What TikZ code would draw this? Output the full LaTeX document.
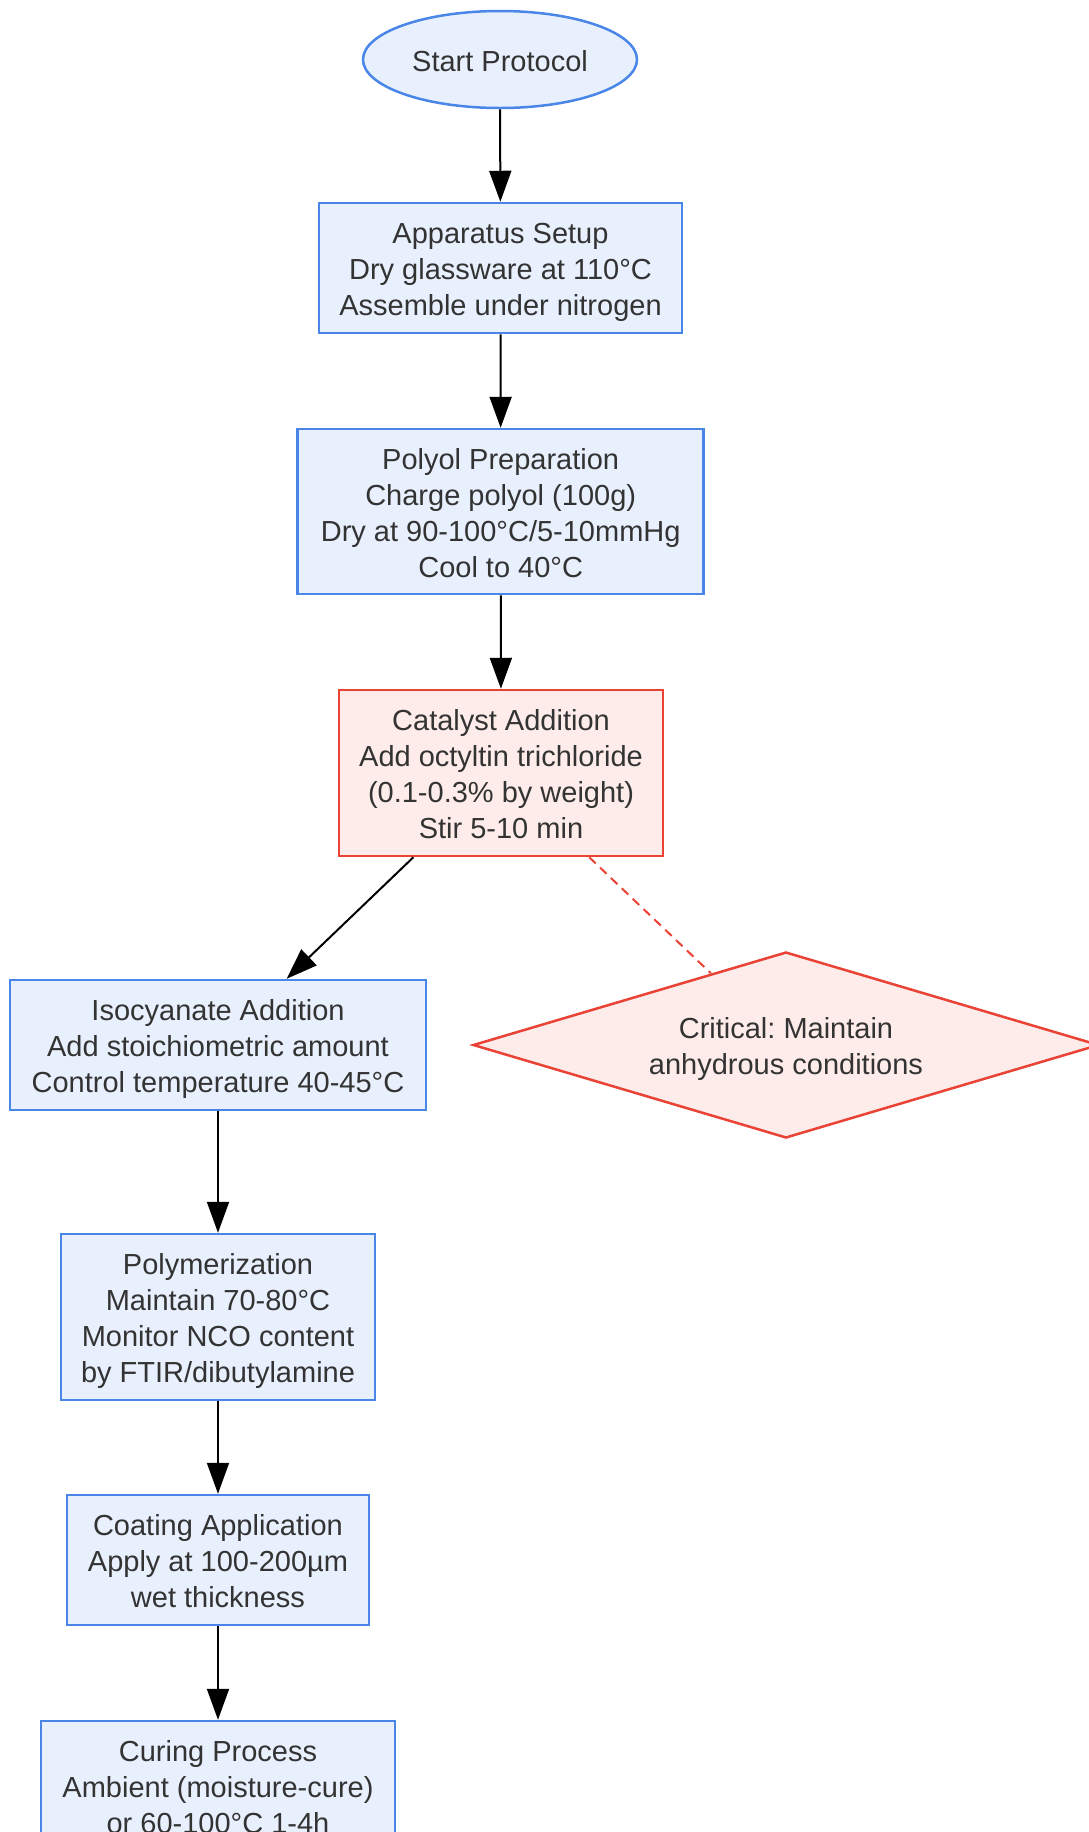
\documentclass[tikz,border=0pt]{standalone}
\usepackage{fontspec}
\setmainfont{Liberation Sans}
\usetikzlibrary{arrows.meta,shapes.geometric}
\definecolor{bfill}{HTML}{E8F0FE}
\definecolor{bdraw}{HTML}{4A86E8}
\definecolor{rfill}{HTML}{FDECEA}
\definecolor{rdraw}{HTML}{EA4335}
\definecolor{txt}{HTML}{333333}
\frenchspacing
\begin{document}
\begin{tikzpicture}[x=1pt,y=-1pt,
  base/.style={align=center, inner sep=0pt, text=txt, font=\fontsize{29}{36}\selectfont\frenchspacing, line width=2.5pt, text depth=5pt},
  oneline/.style={text height=28pt},
  twolines/.style={text height=64pt},
  threelines/.style={text height=100pt},
  fourlines/.style={text height=136pt},
  bluebox/.style={base, rectangle, fill=bfill, draw=bdraw},
  redbox/.style={base, rectangle, fill=rfill, draw=rdraw},
  flow/.style={line width=2pt, draw=black, -{Triangle[length=31pt,width=22pt]}},
  warnlink/.style={line width=2pt, draw=rdraw, dash pattern=on 9pt off 6pt}]
\useasboundingbox (0,0) rectangle (1089,1832);
\fill[white] (0,0) rectangle (1089,1832);

\node[base, oneline, ellipse, fill=bfill, draw=bdraw, minimum width=274pt, minimum height=97pt] (start) at (500,59.5) {Start Protocol};
\node[bluebox, threelines, minimum width=363pt, minimum height=130pt] (app) at (500.5,268) {Apparatus Setup\\Dry glassware at 110°C\\Assemble under nitrogen};
\node[bluebox, fourlines, minimum width=406pt, minimum height=165pt] (poly) at (500.7,511.5) {Polyol Preparation\\Charge polyol (100g)\\Dry at 90-100°C/5-10mmHg\\Cool to 40°C};
\node[redbox, fourlines, minimum width=324pt, minimum height=166pt] (cat) at (501,773) {Catalyst Addition\\Add octyltin trichloride\\(0.1-0.3\% by weight)\\Stir 5-10 min};
\node[bluebox, threelines, minimum width=416pt, minimum height=130pt] (iso) at (218,1045) {Isocyanate Addition\\Add stoichiometric amount\\Control temperature 40-45°C};
\node[base, twolines, diamond, aspect=3.366, fill=rfill, draw=rdraw, minimum width=626pt, minimum height=186pt] (crit) at (786,1045) {Critical: Maintain\\anhydrous conditions};
\node[bluebox, fourlines, minimum width=314pt, minimum height=166pt] (polym) at (218,1317) {Polymerization\\Maintain 70-80°C\\Monitor NCO content\\by FTIR/dibutylamine};
\node[bluebox, threelines, minimum width=302pt, minimum height=130pt] (coat) at (218,1560) {Coating Application\\Apply at 100-200µm\\wet thickness};
\node[bluebox, threelines, minimum width=354pt, minimum height=130pt] (cure) at (218,1786) {Curing Process\\Ambient (moisture-cure)\\or 60-100°C 1-4h};

\draw[flow] (start) -- (app);
\draw[flow] (app) -- (poly);
\draw[flow] (poly) -- (cat);
\draw[flow] (cat) -- (iso);
\draw[warnlink] (cat) -- (crit);
\draw[flow] (iso) -- (polym);
\draw[flow] (polym) -- (coat);
\draw[flow] (coat) -- (cure);
\end{tikzpicture}
\end{document}
